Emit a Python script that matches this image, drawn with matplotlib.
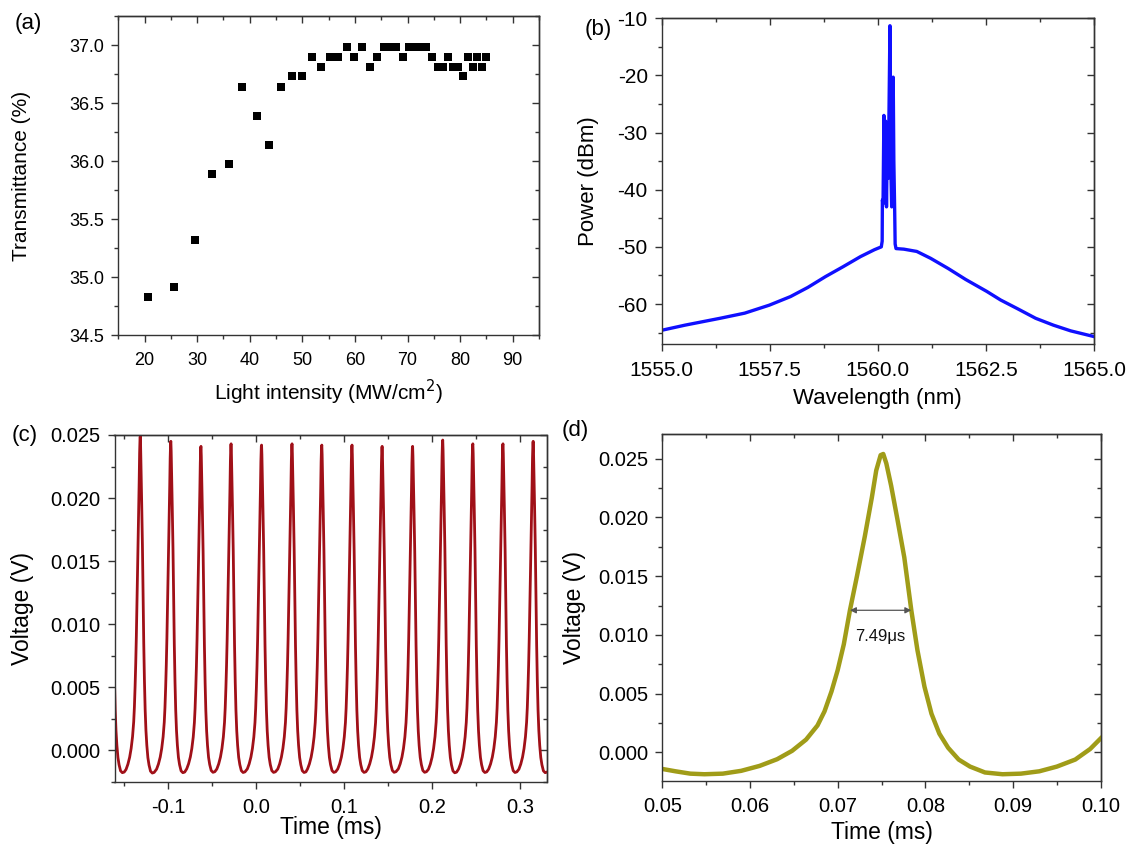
import matplotlib
matplotlib.use('Agg')
import matplotlib.pyplot as plt
from matplotlib.ticker import MultipleLocator, FormatStrFormatter

plt.rcParams['font.family'] = ['Liberation Sans', 'DejaVu Sans']
plt.rcParams['axes.unicode_minus'] = False

# ---------------- (a) transmittance vs intensity ----------------
intensity = [20.6, 25.5, 29.5, 32.9, 36.0, 38.6, 41.4, 43.7, 45.9, 47.96, 49.9,
             51.75, 53.5, 55.2, 56.8, 58.4, 59.9, 61.3, 62.8, 64.1, 65.5, 66.6,
             67.8, 69.1, 70.3, 71.5, 72.6, 73.6, 74.65, 75.8, 76.8, 77.7, 78.7,
             79.6, 80.6, 81.5, 82.4, 83.2, 84.1, 84.9]
transmittance = [34.83, 34.91, 35.32, 35.89, 35.97, 36.64, 36.39, 36.14, 36.64,
                 36.73, 36.73, 36.90, 36.81, 36.90, 36.90, 36.98, 36.90, 36.98,
                 36.81, 36.90, 36.98, 36.98, 36.98, 36.90, 36.98, 36.98, 36.98,
                 36.98, 36.90, 36.81, 36.81, 36.90, 36.81, 36.81, 36.73, 36.90,
                 36.81, 36.90, 36.81, 36.90]
a_xticks = [20, 30, 40, 50, 60, 70, 80, 90]
a_yticks = [34.5, 35.0, 35.5, 36.0, 36.5, 37.0]

# ---------------- (b) optical spectrum ----------------
wavelength = [1555.0, 1555.54, 1556.35, 1556.92, 1557.49, 1557.98, 1558.38,
              1558.79, 1559.19, 1559.6, 1559.92, 1560.08, 1560.10, 1560.105,
              1560.12, 1560.14, 1560.16, 1560.18, 1560.20, 1560.22, 1560.24,
              1560.26, 1560.28, 1560.30, 1560.32, 1560.34, 1560.355, 1560.37,
              1560.39, 1560.40, 1560.42, 1560.6, 1560.9, 1561.22, 1561.63,
              1562.03, 1562.52, 1562.84, 1563.25, 1563.65, 1564.06, 1564.46,
              1565.0]
power = [-64.6, -63.7, -62.5, -61.6, -60.2, -58.7, -57.1, -55.2, -53.5, -51.7,
         -50.5, -50.0, -49.0, -41.8, -42.5, -27.0, -40.0, -28.0, -43.0, -30.0,
         -38.0, -25.0, -11.3, -36.0, -43.0, -22.0, -20.3, -35.0, -44.0, -49.5,
         -50.3, -50.4, -50.8, -52.0, -53.8, -55.7, -57.8, -59.3, -60.9, -62.5,
         -63.7, -64.7, -65.7]
b_xticks = [1555.0, 1557.5, 1560.0, 1562.5, 1565.0]
b_yticks = [-60, -50, -40, -30, -20, -10]

# ---------------- (d) single pulse ----------------
d_time = [0.0500, 0.0515, 0.0532, 0.0548, 0.0569, 0.0590, 0.0611, 0.0631,
          0.0648, 0.0664, 0.0677, 0.0685, 0.0693, 0.0700, 0.0707, 0.0714,
          0.0722, 0.0731, 0.0739, 0.0744, 0.0749, 0.0752, 0.07555, 0.0761,
          0.0768, 0.0776, 0.0784, 0.0791, 0.0799, 0.0807, 0.0816, 0.0826,
          0.0838, 0.0851, 0.0868, 0.0888, 0.0909, 0.0930, 0.0950, 0.0971,
          0.0988, 0.1000]
d_voltage = [-0.00140, -0.00160, -0.00180, -0.00185, -0.00180, -0.00156,
             -0.00114, -0.00057, 0.00014, 0.00110, 0.00230, 0.00350, 0.00520,
             0.00700, 0.00920, 0.01210, 0.01500, 0.01840, 0.02170, 0.02400,
             0.02530, 0.02540, 0.02460, 0.02270, 0.01990, 0.01660, 0.01210,
             0.00870, 0.00560, 0.00330, 0.00160, 0.00040, -0.00060, -0.00120,
             -0.00170, -0.00185, -0.00180, -0.00160, -0.00120, -0.00060,
             0.00030, 0.00120]
d_peak_time = 0.0750
d_xticks = [0.05, 0.06, 0.07, 0.08, 0.09, 0.10]
v_yticks = [0.000, 0.005, 0.010, 0.015, 0.020, 0.025]
fwhm_start, fwhm_end, fwhm_level = 0.0714, 0.0784, 0.0121
fwhm_text = "7.49\u03bcs"

# ---------------- (c) pulse train ----------------
pulse_times = [-0.1656, -0.1316, -0.0969, -0.0627, -0.0285, 0.0061, 0.0407,
               0.0745, 0.1088, 0.1430, 0.1776, 0.2118, 0.2460, 0.2802, 0.3145]
pulse_peaks = [0.0245, 0.0249, 0.0245, 0.0241, 0.0243, 0.0242, 0.0243, 0.0242,
               0.0242, 0.0241, 0.0241, 0.0246, 0.0243, 0.0243, 0.0245]
c_xticks = [-0.1, 0.0, 0.1, 0.2, 0.3]

# build the train from the read pulse list and the read pulse profile of (d)
c_t, c_v = [], []
for pt, pk in zip(pulse_times, pulse_peaks):
    for t, v in zip(d_time, d_voltage):
        off = t - d_peak_time
        if -0.0172 <= off <= 0.0172:
            c_t.append(pt + off)
            c_v.append(v * pk / 0.0254)

# ---------------- figure ----------------
W, H = 1130, 849
fig = plt.figure(figsize=(W / 100, H / 100), dpi=100)


def add_axes(l, t, r, b):
    return fig.add_axes([l / W, 1 - b / H, (r - l) / W, (b - t) / H])


ax_a = add_axes(118.3, 16, 539, 335)
ax_b = add_axes(661.7, 18.3, 1094, 344)
ax_c = add_axes(114.5, 435, 546.5, 781.7)
ax_d = add_axes(662.3, 434, 1100.7, 780.7)

SP = '#333333'


def style(ax, xminor, yminor, tick_fs, xpad, ypad):
    for s in ax.spines.values():
        s.set_linewidth(1.0)
        s.set_color(SP)
    ax.xaxis.set_minor_locator(MultipleLocator(xminor))
    ax.yaxis.set_minor_locator(MultipleLocator(yminor))
    ax.tick_params(which='both', direction='out', top=False, right=False,
                   width=1.0, color=SP, labelsize=tick_fs)
    ax.tick_params(which='major', length=5)
    ax.tick_params(which='minor', length=3)
    ax.tick_params(axis='x', which='major', pad=xpad)
    ax.tick_params(axis='y', which='major', pad=ypad)
    top = ax.secondary_xaxis('top')
    top.set_xticks(ax.get_xticks())
    top.xaxis.set_minor_locator(MultipleLocator(xminor))
    top.tick_params(which='both', direction='in', labeltop=False, width=1.0,
                    color=SP)
    top.tick_params(which='major', length=5)
    top.tick_params(which='minor', length=3)
    right = ax.secondary_yaxis('right')
    right.set_yticks(ax.get_yticks())
    right.yaxis.set_minor_locator(MultipleLocator(yminor))
    right.tick_params(which='both', direction='in', labelright=False,
                      width=1.0, color=SP)
    right.tick_params(which='major', length=5)
    right.tick_params(which='minor', length=3)
    for sec in (top, right):
        for s in sec.spines.values():
            s.set_linewidth(1.0)
            s.set_color(SP)


def labels(ax, xl, yl, fs, xlab_y, ylab_x):
    ax.set_xlabel(xl, fontsize=fs)
    ax.set_ylabel(yl, fontsize=fs)
    ax.xaxis.set_label_coords(0.5, xlab_y)
    ax.xaxis.label.set_va('center')
    ax.yaxis.set_label_coords(ylab_x, 0.5)
    ax.yaxis.label.set_va('center')


# (a)
ax_a.plot(intensity, transmittance, 's', color='black', markersize=5.4,
          markeredgewidth=0)
ax_a.set_xlim(15, 95)
ax_a.set_ylim(34.5, 37.25)
ax_a.set_xticks(a_xticks)
ax_a.set_yticks(a_yticks)
ax_a.yaxis.set_major_formatter(FormatStrFormatter('%.1f'))
style(ax_a, 5, 0.25, 13, 7, 5)
labels(ax_a, 'Light intensity (MW/cm$^2$)', 'Transmittance (%)', 15,
       -0.179, -0.2296)

# (b)
ax_b.plot(wavelength, power, '-', color='#1010ff', linewidth=2.4)
ax_b.set_xlim(1555, 1565)
ax_b.set_ylim(-67, -10)
ax_b.set_xticks(b_xticks)
ax_b.set_yticks(b_yticks)
ax_b.xaxis.set_major_formatter(FormatStrFormatter('%.1f'))
style(ax_b, 1.25, 5, 15, 7, 5)
labels(ax_b, 'Wavelength (nm)', 'Power (dBm)', 16, -0.166, -0.17)

# (c)
ax_c.plot(c_t, c_v, '-', color='#a01018', linewidth=2.0)
ax_c.set_xlim(-0.1607, 0.3298)
ax_c.set_ylim(-0.0025, 0.025)
ax_c.set_xticks(c_xticks)
ax_c.set_yticks(v_yticks)
ax_c.xaxis.set_major_formatter(FormatStrFormatter('%.1f'))
ax_c.yaxis.set_major_formatter(FormatStrFormatter('%.3f'))
style(ax_c, 0.05, 0.0025, 14.5, 7, 5)
labels(ax_c, 'Time (ms)', 'Voltage (V)', 16.5, -0.1335, -0.212)

# (d)
ax_d.plot(d_time, d_voltage, '-', color='#a09c18', linewidth=3.2)
ax_d.set_xlim(0.05, 0.10)
ax_d.set_ylim(-0.0024, 0.0271)
ax_d.set_xticks(d_xticks)
ax_d.set_yticks(v_yticks)
ax_d.xaxis.set_major_formatter(FormatStrFormatter('%.2f'))
ax_d.yaxis.set_major_formatter(FormatStrFormatter('%.3f'))
style(ax_d, 0.005, 0.0025, 14.5, 7, 5)
labels(ax_d, 'Time (ms)', 'Voltage (V)', 16.5, -0.15, -0.2)
ax_d.annotate('', xy=(fwhm_start, fwhm_level), xytext=(fwhm_end, fwhm_level),
              arrowprops=dict(arrowstyle='<|-|>', color='#555555', lw=0.9,
                              mutation_scale=9, shrinkA=0, shrinkB=0))
ax_d.text((fwhm_start + fwhm_end) / 2, 0.0099, fwhm_text, fontsize=12,
          ha='center', va='center', color='#111111')

# panel letters
for txt, x, y in [('(a)', 28, 24), ('(b)', 598, 30), ('(c)', 25, 435),
                  ('(d)', 575, 430)]:
    fig.text(x / W, 1 - y / H, txt, fontsize=16, ha='center', va='center')

fig.savefig('out.png', dpi=100)
